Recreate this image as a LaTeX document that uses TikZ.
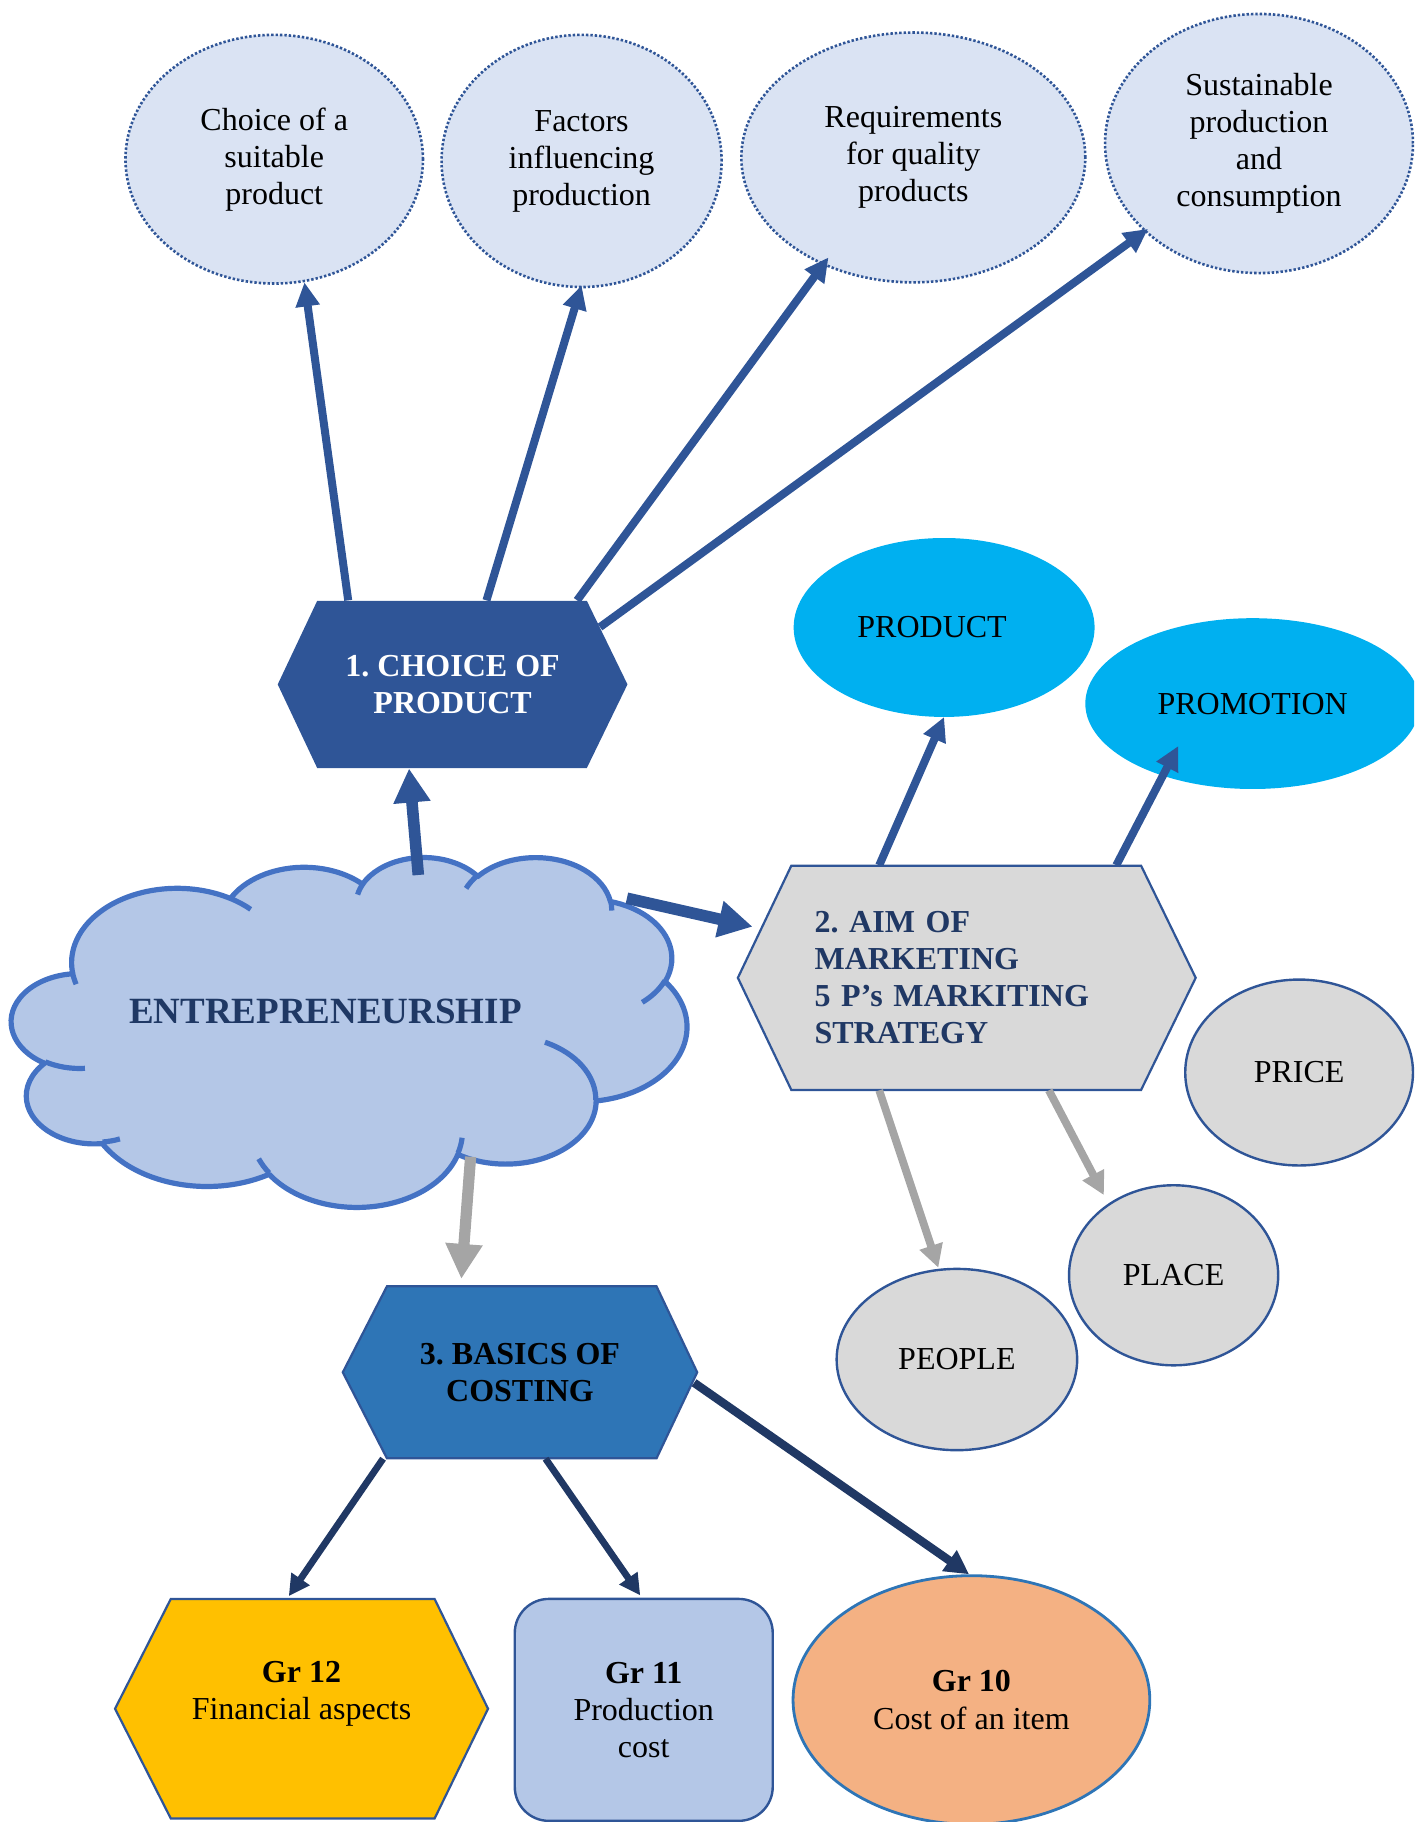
\documentclass[tikz,border=0pt]{standalone}
\usepackage{fontspec}
\setmainfont{Liberation Serif}
\usetikzlibrary{arrows.meta,calc,shapes.geometric}
\definecolor{cNavy}{HTML}{2F5597}
\definecolor{cDark}{HTML}{203864}
\definecolor{cEnt}{HTML}{1F3864}
\definecolor{cLight}{HTML}{DAE3F3}
\definecolor{cCloud}{HTML}{B4C7E7}
\definecolor{cCloudLine}{HTML}{4472C4}
\definecolor{cGray}{HTML}{D9D9D9}
\definecolor{cArrGray}{HTML}{A5A5A5}
\definecolor{cCyan}{HTML}{00B0F0}
\definecolor{cMid}{HTML}{2E75B6}
\definecolor{cGold}{HTML}{FFC000}
\definecolor{cPeach}{HTML}{F4B183}
\def\U{0.58095pt}
\frenchspacing
% arc of an ellipse given with DrawingML-style (visual) angles
\newcommand\cloudarc[4]{arc[x radius=#1, y radius=#2, start angle={atan2((#1)*sin(#3),(#2)*cos(#3))}, delta angle={mod(atan2((#1)*sin((#3)+(#4)),(#2)*cos((#3)+(#4)))-atan2((#1)*sin(#3),(#2)*cos(#3))+720,360)}]}
\begin{document}
\begin{tikzpicture}[x=0.58095pt, y=-0.58095pt,
  txt/.style={font=\fontsize{16}{18.5}\selectfont, inner sep=0pt, align=center},
  topell/.style={txt, ellipse, fill=cLight, draw=cNavy, line width=1.3pt, dash pattern=on 1.2pt off 1pt},
  hexbox/.style={txt, rectangle, font=\fontsize{16}{18.5}\selectfont\bfseries},
  pell/.style={txt, ellipse, fill=cCyan},
  gell/.style={txt, ellipse, fill=cGray, draw=cNavy, line width=1.2pt},
  hexline/.style={draw=cNavy, line width=1.1pt, line join=miter},
  cloudline/.style={draw=cCloudLine, line width=2.6pt},
  arrTop/.style={draw=cNavy, line width=4pt, -{Triangle[length=12pt,width=11.5pt]}},
  arrMid/.style={draw=cNavy, line width=4pt, -{Triangle[length=12pt,width=11.5pt]}},
  arrThick/.style={draw=cNavy, line width=5.8pt, -{Triangle[length=17pt,width=17.5pt]}},
  arrGray/.style={draw=cArrGray, line width=3.9pt, -{Triangle[length=11.5pt,width=11.5pt]}},
  arrGrayBig/.style={draw=cArrGray, line width=5.6pt, -{Triangle[length=17.5pt,width=17.5pt]}},
  arrDark/.style={draw=cDark, line width=3.4pt, -{Triangle[length=10.5pt,width=10.5pt]}},
  arrDarkB/.style={draw=cDark, line width=4.2pt, -{Triangle[length=12pt,width=12pt]}}
]
\useasboundingbox (0,0) rectangle (1217,1568);
\clip (0,0) rectangle (1217,1568);

% ---------- top ellipses ----------
\node[topell, minimum width=256*\U, minimum height=214*\U] (e1) at (236,137) {Choice of a\\suitable\\product};
\node[topell, minimum width=241*\U, minimum height=217*\U] (e2) at (500.5,138.5) {Factors\\influencing\\production};
\node[topell, minimum width=296*\U, minimum height=215*\U] (e3) at (786,135.5) {Requirements\\for quality\\products};
\node[topell, minimum width=265*\U, minimum height=223*\U] (e4) at (1083.5,123.5) {Sustainable\\production\\and\\consumption};

% ---------- hexagon 1 ----------
\fill[cNavy] (273,517) -- (505,517) -- (540,589) -- (505,661) -- (273,661) -- (239,589) -- cycle;
\node[hexbox, text=white, minimum width=301*\U, minimum height=144*\U] (h1) at (389.5,589) {1. CHOICE OF\\PRODUCT};

% ---------- cloud ----------
\begin{scope}[shift={(10,737)}, xscale=1.34491, yscale=0.69676]
\filldraw[fill=cCloud, cloudline, line join=round] (39.00,143.70)
  \cloudarc{67.53}{91.90}{-190.4875}{123.7805}
  \cloudarc{53.33}{72.67}{-144.1024}{89.9452}
  \cloudarc{43.65}{59.45}{-145.8079}{99.7230}
  \cloudarc{48.57}{65.95}{-130.9861}{117.2417}
  \cloudarc{53.33}{72.73}{-78.7089}{109.0269}
  \cloudarc{67.75}{92.20}{-46.2673}{130.2690}
  \cloudarc{57.85}{78.67}{0.6250}{114.0333}
  \cloudarc{67.52}{92.15}{22.4516}{115.1726}
  \cloudarc{77.20}{105.43}{66.2426}{75.7110}
  \cloudarc{43.60}{59.18}{-274.9421}{146.7356}
  \cloudarc{43.45}{59.45}{-246.8285}{152.5189}
  -- cycle;
\draw[cloudline]
  (46.93,261.77) \cloudarc{43.45}{59.45}{86.7420}{26.4295}
  (69.28,348.99) \cloudarc{43.60}{59.18}{73.6105}{11.4475}
  (164.78,390.90) \cloudarc{67.52}{92.15}{137.6242}{14.0811}
  (288.27,347.51) \cloudarc{67.52}{92.15}{6.4533}{15.9984}
  (341.29,229.54) \cloudarc{57.85}{78.67}{-70.2924}{70.9174}
  (417.98,153.54) \cloudarc{53.33}{72.73}{30.3180}{27.7515}
  (383.24,54.26) \cloudarc{48.57}{65.95}{-13.7443}{14.8589}
  (290.78,39.52) \cloudarc{48.57}{65.95}{-149.1815}{18.1954}
  (221.41,47.20) \cloudarc{43.65}{59.45}{-163.4943}{17.6864}
  (140.00,51.92) \cloudarc{67.53}{91.90}{-66.7070}{12.3194}
  (41.27,157.89) \cloudarc{67.53}{91.90}{157.6544}{11.8582};
\end{scope}
\node[txt, font=\fontsize{18.5}{21}\selectfont\bfseries, text=cEnt] (ent) at (280,870) {ENTREPRENEURSHIP};
\coordinate (cTop) at (360,753);
\coordinate (cRight) at (539.5,773);
\coordinate (cBottom) at (405,995.5);

% ---------- marketing ----------
\fill[cGray] (681,745) -- (982,745) -- (1029,841.5) -- (982,938) -- (681,938) -- (635,841.5) -- cycle;
\draw[hexline] (681,745) -- (982,745) -- (1029,841.5) -- (982,938) -- (681,938) -- (635,841.5) -- cycle;
\node[hexbox, text=cDark, align=left, text width=262*\U, minimum width=394*\U, minimum height=193*\U] (h2) at (832,841.5) {2. AIM OF\\MARKETING\\5 P’s MARKITING\\STRATEGY};

\node[pell, minimum width=259*\U, minimum height=154*\U] (prod) at (812.5,540) {PRODUCT\hspace*{12pt}};
\node[pell, minimum width=288*\U, minimum height=147*\U] (prom) at (1078,605.5) {PROMOTION};
\node[gell, minimum width=196*\U, minimum height=160*\U] (pric) at (1118,923) {PRICE};
\node[gell, minimum width=180*\U, minimum height=155*\U] (plac) at (1010,1097.5) {PLACE};
\node[gell, minimum width=207*\U, minimum height=156*\U] (peop) at (823.5,1170) {PEOPLE};

% ---------- costing ----------
\filldraw[fill=cMid, hexline] (333,1107) -- (565,1107) -- (600,1181) -- (565,1255) -- (333,1255) -- (295,1181) -- cycle;
\node[hexbox, text=black, minimum width=305*\U, minimum height=148*\U] (h3) at (447.5,1181) {3. BASICS OF\\COSTING};

\filldraw[fill=cGold, hexline] (147,1376) -- (374,1376) -- (420,1470.5) -- (374,1565) -- (147,1565) -- (99,1470.5) -- cycle;
\node[txt, minimum width=321*\U, minimum height=189*\U] (g12) at (259.5,1470.5) {\textbf{Gr 12}\\Financial aspects\\~};

\node[txt, rectangle, rounded corners=17pt, fill=cCloud, draw=cNavy, line width=1.2pt, minimum width=222*\U, minimum height=191*\U] (g11) at (554,1471.5) {\textbf{Gr 11}\\Production\\cost};

\node[txt, ellipse, fill=cPeach, draw=cMid, line width=1.4pt, minimum width=307*\U, minimum height=214*\U] (g10) at (836,1463) {\textbf{Gr 10}\\Cost of an item};

% ---------- connectors ----------
\draw[arrTop] ($(h1.north west)+(61,0)$) -- ($(e1.center)+(26,106)$);
\draw[arrTop] ($(h1.north west)+(180,0)$) -- ($(e2.center)+(0,107)$);
\draw[arrTop] ($(h1.north west)+(258,0)$) -- ($(e3.center)+(-73,86)$);
\draw[arrTop] ($(h1.north east)+(-24,23)$) -- ($(e4.center)+(-95.5,73.5)$);
\draw[arrThick] (cTop) -- ($(h1.south)+(-37.5,0)$);
\draw[arrThick] (cRight) -- ($(h2.west)+(13,-44)$);
\draw[arrMid] ($(h2.north west)+(122,0)$) -- ($(prod.center)+(0,77)$);
\draw[arrMid] ($(h2.north west)+(326,0)$) -- ($(prom.center)+(-64,36.5)$);
\draw[arrGray] ($(h2.south west)+(122,0)$) -- ($(peop.center)+(-16,-79)$);
\draw[arrGray] ($(h2.south west)+(268,0)$) -- ($(plac.center)+(-60,-69)$);
\draw[arrGrayBig] (cBottom) -- ($(h3.north)+(-50.5,-6)$);
\draw[arrDark] ($(h3.south west)+(35,0)$) -- ($(g12.north)+(-11,-2)$);
\draw[arrDark] ($(h3.south)+(22,0)$) -- ($(g11.north)+(-3,-2)$);
\draw[arrDarkB] ($(h3.east)+(-3,9)$) -- ($(g10.north)+(-2,0)$);
\end{tikzpicture}
\end{document}
